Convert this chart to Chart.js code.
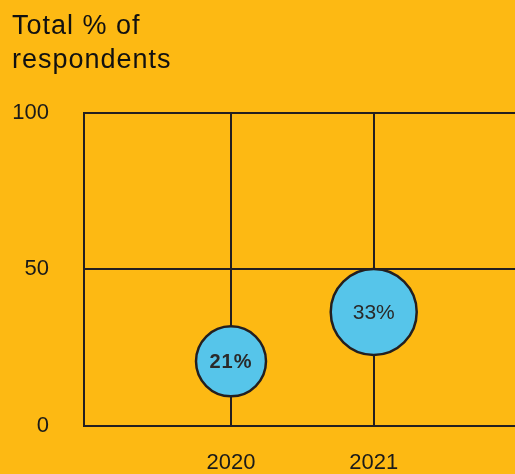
<!DOCTYPE html>
<html>
<head>
<meta charset="utf-8">
<script src="https://cdn.jsdelivr.net/npm/chart.js@4/dist/chart.umd.min.js"></script>
<style>
  html, body { margin: 0; padding: 0; background: #FDB913; }
  canvas { display: block; }
</style>
</head>
<body>
<canvas id="myChart" width="515" height="474"></canvas>
<script>
// values
const titleLines = ["Total % of", "respondents"];
const years = [2020, 2021];
const yValues = [20.6, 36.4];
const bubbleRadius = [35, 43];
const bubbleLabels = ["21%", "33%"];
const yTicks = [0, 50, 100];

const ink = "#231F20";
const fontFamily = "'Liberation Sans', Arial, sans-serif";

// title is drawn by hand so it can get a little letter spacing
const titlePlugin = {
  id: "bigTitle",
  afterDraw(chart) {
    const ctx = chart.ctx;
    ctx.save();
    ctx.fillStyle = "#111";
    ctx.font = "27px " + fontFamily;
    ctx.letterSpacing = "1px";
    ctx.textAlign = "left";
    ctx.textBaseline = "alphabetic";
    titleLines.forEach((line, i) => {
      ctx.fillText(line, 12, 34 + i * 34);
    });
    ctx.restore();
  },
};

const bubbleLabelPlugin = {
  id: "bubbleLabels",
  afterDatasetsDraw(chart) {
    const ctx = chart.ctx;
    const meta = chart.getDatasetMeta(0);
    ctx.save();
    ctx.fillStyle = "#2a2a2a";
    ctx.textAlign = "center";
    ctx.textBaseline = "middle";
    meta.data.forEach((el, i) => {
      ctx.font = (i === 0 ? "bold 20px " : "21px ") + fontFamily;
      ctx.letterSpacing = i === 0 ? "1px" : "0px";
      ctx.fillText(bubbleLabels[i], el.x, el.y + 1);
    });
    ctx.restore();
  },
};

const data = {
  datasets: [
    {
      data: years.map((y, i) => ({ x: y, y: yValues[i], r: bubbleRadius[i] })),
      backgroundColor: "#56C5EA",
      borderColor: ink,
      borderWidth: 2.5,
      hoverBackgroundColor: "#56C5EA",
      hoverBorderColor: ink,
      clip: false,
    },
  ],
};

const config = {
  type: "bubble",
  data,
  plugins: [titlePlugin, bubbleLabelPlugin],
  options: {
    responsive: false,
    animation: false,
    layout: {
      autoPadding: false,
      padding: { left: 13, right: 0, top: 113, bottom: 0 },
    },
    plugins: {
      legend: { display: false },
      tooltip: { enabled: false },
      title: { display: false },
    },
    scales: {
      x: {
        type: "linear",
        min: 2018.97,
        max: 2021.99,
        afterBuildTicks: (scale) => {
          scale.ticks = years.map((v) => ({ value: v }));
        },
        afterFit: (scale) => {
          scale.height = 47;
        },
        grid: { color: ink, lineWidth: 2, drawTicks: false },
        border: { display: true, color: ink, width: 2 },
        ticks: {
          color: "#1a1a1a",
          padding: 24,
          font: { family: fontFamily, size: 22 },
          callback: (v) => String(v),
          maxRotation: 0,
        },
      },
      y: {
        min: 0,
        max: 100,
        afterBuildTicks: (scale) => {
          scale.ticks = yTicks.map((v) => ({ value: v }));
        },
        afterFit: (scale) => {
          scale.width = 71;
        },
        grid: { color: ink, lineWidth: 2, drawTicks: false },
        border: { display: true, color: ink, width: 2 },
        ticks: {
          color: "#1a1a1a",
          padding: 35,
          font: { family: fontFamily, size: 22 },
        },
      },
    },
  },
};

new Chart(document.getElementById("myChart"), config);
</script>
</body>
</html>
